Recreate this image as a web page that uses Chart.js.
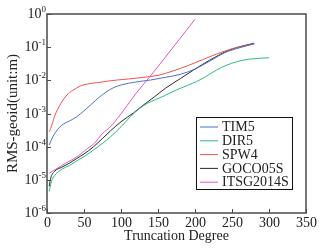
<!DOCTYPE html>
<html>
<head>
<meta charset="utf-8">
<script src="https://cdn.jsdelivr.net/npm/chart.js@4"></script>
<style>
  html, body { margin: 0; padding: 0; background: #fff; }
  #wrap { width: 325px; height: 251px; }
</style>
</head>
<body>
<div id="wrap"><canvas id="rmsChart" width="325" height="251"></canvas></div>
<script>
// degree ticks and decade ticks (log10)
const xTicks = [0, 50, 100, 150, 200, 250, 300, 350];
const yExps = [-6, -5, -4, -3, -2, -1, 0];

// truncation degree / log10 of RMS geoid (m)
const tim5Deg = [3, 8, 14, 22, 30, 40, 50, 60, 70, 80, 90, 100, 120, 140, 160, 180, 200, 220, 240, 260, 280];
const tim5Log = [-3.95, -3.7, -3.49, -3.32, -3.23, -3.1, -2.92, -2.72, -2.52, -2.35, -2.22, -2.14, -2.05, -1.99, -1.91, -1.82, -1.66, -1.42, -1.17, -1.02, -0.9];

const dir5Deg = [3, 6, 10, 20, 30, 41, 50, 63, 75, 86, 100, 113, 125, 135, 148, 160, 175, 190, 202, 215, 229, 242, 256, 274, 300];
const dir5Log = [-5.35, -5.05, -4.88, -4.68, -4.57, -4.42, -4.3, -4.1, -3.9, -3.7, -3.4, -3.09, -2.85, -2.7, -2.57, -2.45, -2.29, -2.15, -2.04, -1.88, -1.69, -1.55, -1.44, -1.36, -1.32];

const spw4Deg = [3, 5, 10, 14, 20, 27, 35, 45, 55, 68, 80, 95, 110, 130, 150, 170, 190, 210, 230, 250, 265, 280];
const spw4Log = [-3.55, -3.45, -3.1, -2.89, -2.65, -2.44, -2.3, -2.17, -2.11, -2.07, -2.03, -1.99, -1.96, -1.91, -1.85, -1.72, -1.56, -1.38, -1.2, -1.05, -0.97, -0.9];

const gocoDeg = [3, 5, 10, 20, 30, 40, 50, 63, 75, 86, 100, 117, 130, 145, 160, 180, 200, 220, 247, 265, 280];
const gocoLog = [-5.2, -4.95, -4.75, -4.62, -4.5, -4.36, -4.22, -4.0, -3.75, -3.52, -3.25, -2.98, -2.75, -2.5, -2.24, -1.95, -1.66, -1.39, -1.08, -0.96, -0.88];

const itsgDeg = [3, 14, 25, 41, 55, 64, 75, 86, 104, 120, 139, 160, 180, 200];
const itsgLog = [-4.8, -4.65, -4.5, -4.3, -4.05, -3.9, -3.6, -3.39, -2.89, -2.4, -1.89, -1.3, -0.73, -0.16];

function pts(deg, lg) {
  return deg.map((d, i) => ({ x: d, y: Math.pow(10, lg[i]) }));
}

function line(label, deg, lg, color) {
  return {
    label: label,
    data: pts(deg, lg),
    borderColor: color,
    backgroundColor: color,
    borderWidth: 1,
    pointRadius: 0,
    fill: false,
    cubicInterpolationMode: "monotone",
  };
}

const serif = "'Liberation Serif', 'DejaVu Serif', serif";
const axisColor = "#4a4a4a";

// frame, inward ticks, tick labels, axis titles, legend box
const decor = {
  id: "decor",
  afterDraw(chart) {
    const c = chart.ctx;
    const a = chart.chartArea;
    const xs = chart.scales.x;
    const ys = chart.scales.y;
    c.save();
    c.strokeStyle = axisColor;
    c.lineWidth = 1.5;
    c.strokeRect(a.left, a.top, a.right - a.left, a.bottom - a.top);

    c.lineWidth = 1;
    c.fillStyle = "#222";
    c.font = "14px " + serif;
    c.textAlign = "center";
    c.textBaseline = "middle";
    xTicks.forEach((t) => {
      const px = Math.round(xs.getPixelForValue(t)) + 0.5;
      c.beginPath();
      c.moveTo(px, a.bottom);
      c.lineTo(px, a.bottom - 4);
      c.stroke();
      c.fillText(String(t), px, a.bottom + 10);
    });

    yExps.forEach((e) => {
      const py = Math.round(ys.getPixelForValue(Math.pow(10, e))) + 0.5;
      c.beginPath();
      c.moveTo(a.left, py);
      c.lineTo(a.left + 4, py);
      c.stroke();
      const exp = String(e);
      c.font = "9px " + serif;
      const ew = c.measureText(exp).width;
      c.textAlign = "left";
      c.textBaseline = "middle";
      c.fillText(exp, a.left - 1 - ew, py - 5);
      c.font = "14px " + serif;
      c.textAlign = "right";
      c.fillText("10", a.left - 1 - ew, py);
    });

    // axis titles
    c.font = "14px " + serif;
    c.textAlign = "center";
    c.fillText("Truncation Degree", (a.left + a.right) / 2, a.bottom + 23);
    c.save();
    c.translate(13, (a.top + a.bottom) / 2);
    c.rotate(-Math.PI / 2);
    c.font = "15px " + serif;
    c.fillText("RMS-geoid(unit:m)", 0, 0);
    c.restore();

    // legend
    const lx = 196, ly = 117, lw = 96, lh = 72;
    c.fillStyle = "#fff";
    c.fillRect(lx, ly, lw, lh);
    c.strokeStyle = "#111";
    c.lineWidth = 1;
    c.strokeRect(lx + 0.5, ly + 0.5, lw, lh);
    c.font = "14px " + serif;
    c.textAlign = "left";
    c.textBaseline = "middle";
    chart.data.datasets.forEach((ds, i) => {
      const ry = ly + 10 + i * 13.8;
      c.strokeStyle = ds.borderColor;
      c.lineWidth = 1;
      c.beginPath();
      c.moveTo(lx + 4, ry);
      c.lineTo(lx + 22, ry);
      c.stroke();
      c.fillStyle = "#222";
      c.fillText(ds.label, lx + 26, ry + 0.5);
    });
    c.restore();
  },
};

const ctx = document.getElementById("rmsChart").getContext("2d");
new Chart(ctx, {
  type: "line",
  data: {
    datasets: [
      line("TIM5", tim5Deg, tim5Log, "#4a72cc"),
      line("DIR5", dir5Deg, dir5Log, "#2dbb78"),
      line("SPW4", spw4Deg, spw4Log, "#f2534e"),
      line("GOCO05S", gocoDeg, gocoLog, "#2a2a2a"),
      line("ITSG2014S", itsgDeg, itsgLog, "#e055c5"),
    ],
  },
  options: {
    responsive: false,
    animation: false,
    devicePixelRatio: 1,
    layout: { padding: { left: 47, right: 19, top: 14, bottom: 38 } },
    plugins: {
      legend: { display: false },
      tooltip: { enabled: false },
    },
    scales: {
      x: {
        type: "linear",
        min: 0,
        max: 350,
        grid: { display: false, drawTicks: false },
        border: { display: false },
        ticks: { display: false },
      },
      y: {
        type: "logarithmic",
        min: 1e-6,
        max: 1,
        grid: { display: false, drawTicks: false },
        border: { display: false },
        ticks: { display: false },
      },
    },
  },
  plugins: [decor],
});
</script>
</body>
</html>
